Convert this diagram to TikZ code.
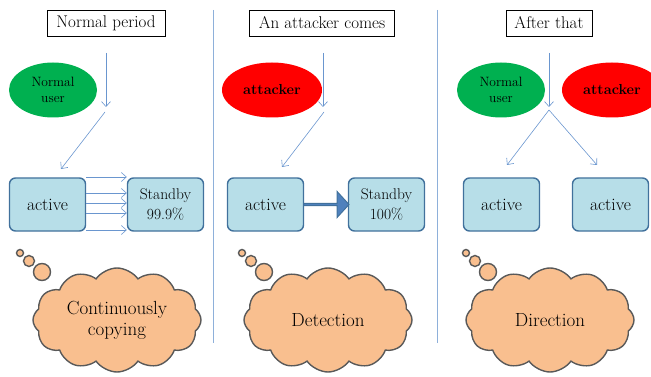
\documentclass[tikz,border=0pt]{standalone}
\usepackage{fontspec}
\usepackage{tikz}
\usetikzlibrary{shapes.geometric, shapes.symbols, shapes.arrows, arrows.meta, calc}

\definecolor{usergreen}{HTML}{00B050}
\definecolor{boxfill}{HTML}{B7DEE8}
\definecolor{boxline}{HTML}{41719C}
\definecolor{cloudfill}{HTML}{F9BF8F}
\definecolor{cloudline}{HTML}{595959}
\definecolor{flow}{HTML}{6A96CF}
\definecolor{sepline}{HTML}{8EB0DA}
\definecolor{bigarrow}{HTML}{4F81BD}

\begin{document}
\begin{tikzpicture}[x=1pt, y=-1pt,
					title/.style={draw, fill=white, minimum height=26, inner sep=0,
						font=\fontsize{17}{20}\selectfont},
					user/.style={ellipse, fill=usergreen, minimum width=88, minimum height=55,
						inner sep=0, align=center, font=\fontsize{13.5}{16}\selectfont},
					attacker/.style={ellipse, fill=red, minimum width=100, minimum height=55,
						inner sep=0, font=\bfseries\fontsize{14.5}{17}\selectfont},
					server/.style={draw=boxline, fill=boxfill, line width=1.4pt, rounded corners=6pt,
						minimum width=76, minimum height=53, inner sep=0, align=center,
						font=\fontsize{17.5}{20}\selectfont},
					standby/.style={server, font=\fontsize{15.5}{19.5}\selectfont},
					thought/.style={cloud, cloud puffs=12, cloud puff arc=110, cloud ignores aspect,
						draw=cloudline, fill=cloudfill, line width=1.4pt, minimum width=168,
						minimum height=104, inner sep=0, align=center,
						font=\fontsize{19}{21}\selectfont},
					bubble/.style={draw=cloudline, fill=cloudfill, line width=1.4pt},
					flowline/.style={draw=flow, semithick, -{Straight Barb[length=5pt,width=9pt]}}]

	\useasboundingbox (0,0) rectangle (651,377);

	% separators
	\draw[sepline, line width=0.9pt] (213,10) -- (213,343);
	\draw[sepline, line width=0.9pt] (437,10) -- (437,343);

	% normal period
	\node[title, minimum width=118] (t1) at (106,23) {Normal period};
	\node[user] (u1) at (53,90) {Normal\\user};
	\node[server] (act1) at (47.5,204.5) {active};
	\node[standby] (sb1) at (165.5,204.5) {Standby\\99.9\%};
	\coordinate (in1) at (106,53);
	\coordinate (m1) at (106,107);
	\coordinate (f1) at (105,112);
	\coordinate (e1) at (61,169);
	\draw[flowline] (in1) -- (m1);
	\draw[flowline] (f1) -- (e1);
	\foreach \yy in {177,193,203,213,230}
		\draw[flowline] (act1.east |- 0,\yy) -- (sb1.west |- 0,\yy);
	\node[thought] (c1) at (117,320) {Continuously\\copying};
	\draw[bubble] (20,253) circle (3.5);
	\draw[bubble] (29,261) circle (5.5);
	\draw[bubble] (42,272) circle (8.5);

	% an attacker comes
	\node[title, minimum width=145] (t2) at (322,23) {An attacker comes};
	\node[attacker] (a2) at (272,90) {attacker};
	\node[server] (act2) at (265.5,204.5) {active};
	\node[standby] (sb2) at (386.5,204.5) {Standby\\100\%};
	\coordinate (in2) at (323,53);
	\coordinate (m2) at (323,107);
	\coordinate (f2) at (324,112);
	\coordinate (e2) at (282,167);
	\draw[flowline] (in2) -- (m2);
	\draw[flowline] (f2) -- (e2);
	\node[single arrow, draw=boxline, fill=bigarrow, line width=1pt, inner sep=0,
		minimum width=26, minimum height=45, single arrow head extend=5.5,
		single arrow tip angle=95] (go2) at ($(act2.east)!0.5!(sb2.west)$) {};
	\node[thought] (c2) at (328,320) {Detection};
	\draw[bubble] (242,253) circle (3.5);
	\draw[bubble] (251,261) circle (5.5);
	\draw[bubble] (264,272) circle (8.5);

	% after that
	\node[title, minimum width=86] (t3) at (549,23) {After that};
	\node[user] (u3) at (501,90) {Normal\\user};
	\node[attacker] (a3) at (612,90) {attacker};
	\node[server] (act3a) at (501.5,204.5) {active};
	\node[server] (act3b) at (610.5,204.5) {active};
	\coordinate (in3) at (549,53);
	\coordinate (m3) at (549,107);
	\coordinate (f3) at (549,110);
	\coordinate (e3a) at (507,165);
	\coordinate (e3b) at (597,165);
	\draw[flowline] (in3) -- (m3);
	\draw[flowline] (f3) -- (e3a);
	\draw[flowline] (f3) -- (e3b);
	\node[thought] (c3) at (550,320) {Direction};
	\draw[bubble] (466,253) circle (3.5);
	\draw[bubble] (475,261) circle (5.5);
	\draw[bubble] (488,272) circle (8.5);
\end{tikzpicture}
\end{document}
